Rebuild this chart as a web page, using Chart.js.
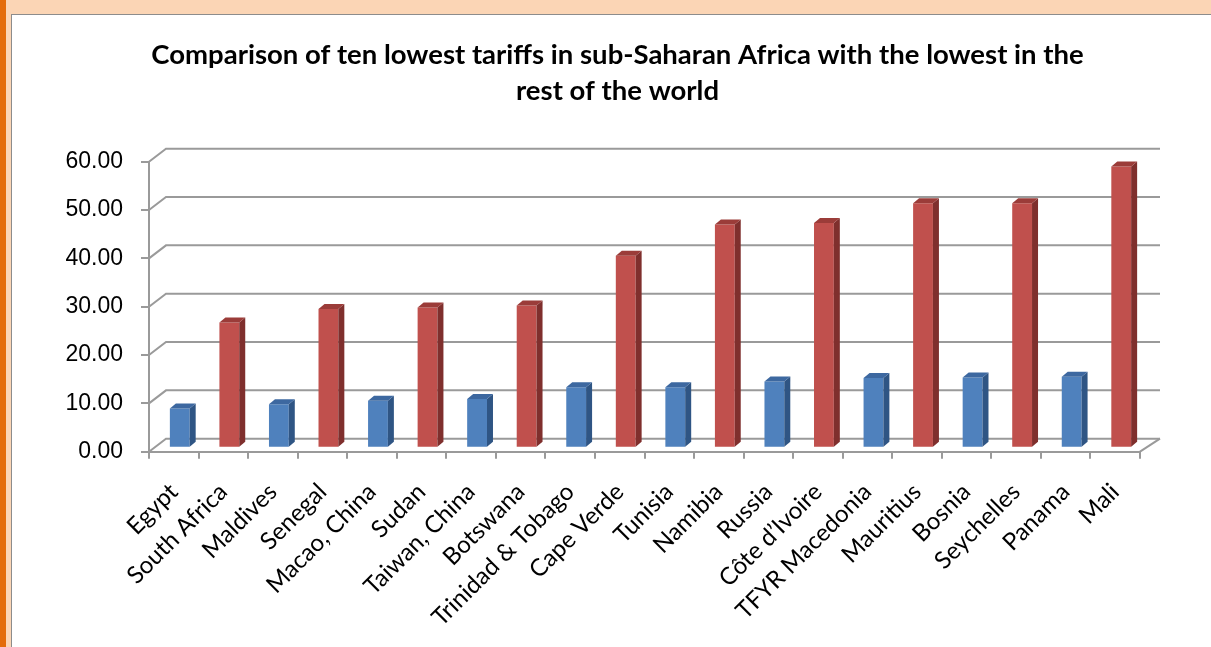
<!DOCTYPE html>
<html lang="en">
<head>
  <meta charset="UTF-8">
  <title>Ten lowest tariffs in sub-Saharan Africa vs the rest of the world</title>
  <style>
    body {
      margin: 0;
      width: 1211px;
      height: 647px;
      overflow: hidden;
      position: relative;
      background-color: #fbd5b5;
    }
    /* orange strip on the left edge */
    .edge {
      position: absolute;
      left: 0;
      top: 0;
      width: 6px;
      height: 647px;
      background-color: #e46c0a;
    }
    /* white chart panel */
    .panel {
      position: absolute;
      left: 11px;
      top: 14px;
      width: 1220px;
      height: 660px;
      background-color: #fff;
      border: 1px solid #8c8c8c;
    }
    #wrap {
      position: absolute;
      left: 0;
      top: 0;
      width: 1211px;
      height: 647px;
    }
  </style>
</head>
<body>

<div class="edge"></div>
<div class="panel"></div>
<div id="wrap"><canvas id="tariffChart"></canvas></div>

<script src="https://cdn.jsdelivr.net/npm/chart.js"></script>

<script>
  // Categories, in the order shown
  var countries = ['Egypt', 'South Africa', 'Maldives', 'Senegal', 'Macao, China', 'Sudan',
    'Taiwan, China', 'Botswana', 'Trinidad & Tobago', 'Cape Verde', 'Tunisia', 'Namibia',
    'Russia', 'C\u00f4te d\u2019Ivoire', 'TFYR Macedonia', 'Mauritius', 'Bosnia', 'Seychelles',
    'Panama', 'Mali'];

  // Sub-Saharan Africa (red bars)
  var africa = [null, 25.9, null, 28.7, null, 29.0, null, 29.4, null, 39.7,
    null, 46.2, null, 46.5, null, 50.6, null, 50.6, null, 58.2];

  // Rest of the world (blue bars)
  var restOfWorld = [8.1, null, 9.0, null, 9.7, null, 10.1, null, 12.5, null,
    12.5, null, 13.7, null, 14.4, null, 14.5, null, 14.7, null];

  var yTicks = [0, 10, 20, 30, 40, 50, 60];

  var gridColor = '#9a9a9a';

  // fake 3D: back wall, floor, bar side and top faces
  var wallX = 17, wallY = -13, wallRightX = 20;
  var barX = 6, barY = -4;
  var sideX = 6, sideY = -5;

  var threeD = {
    id: 'threeD',
    beforeDatasetsDraw: function(chart) {
      var ctx = chart.ctx;
      var a = chart.chartArea;
      var y = chart.scales.y;
      ctx.save();
      ctx.strokeStyle = gridColor;
      ctx.lineWidth = 2;
      yTicks.forEach(function(v) {
        var py = y.getPixelForValue(v);
        ctx.beginPath();
        ctx.moveTo(a.left, py);
        ctx.lineTo(a.left + wallX, py + wallY);
        ctx.lineTo(a.right + wallRightX, py + wallY);
        ctx.stroke();
      });
      // right edge of the floor
      ctx.beginPath();
      ctx.moveTo(a.right, a.bottom);
      ctx.lineTo(a.right + wallRightX, a.bottom + wallY);
      ctx.stroke();
      ctx.restore();

      // bars stand in the middle of the floor
      ctx.save();
      ctx.translate(barX, barY);
    },
    afterDatasetsDraw: function(chart) {
      var ctx = chart.ctx;
      chart.data.datasets.forEach(function(ds, i) {
        chart.getDatasetMeta(i).data.forEach(function(bar, j) {
          if (ds.data[j] == null) return;
          var p = bar.getProps(['x', 'y', 'base', 'width'], true);
          var l = p.x - p.width / 2;
          var r = p.x + p.width / 2;
          ctx.fillStyle = ds.sideColor;
          ctx.beginPath();
          ctx.moveTo(r, p.y);
          ctx.lineTo(r + sideX, p.y + sideY);
          ctx.lineTo(r + sideX, p.base + sideY);
          ctx.lineTo(r, p.base);
          ctx.closePath();
          ctx.fill();
          ctx.fillStyle = ds.topColor;
          ctx.beginPath();
          ctx.moveTo(l, p.y);
          ctx.lineTo(l + sideX, p.y + sideY);
          ctx.lineTo(r + sideX, p.y + sideY);
          ctx.lineTo(r, p.y);
          ctx.closePath();
          ctx.fill();
        });
      });
      ctx.restore();
    }
  };

  var ctx = document.getElementById('tariffChart').getContext('2d');
  var chart = new Chart(ctx, {
    type: 'bar',
    data: {
      labels: countries,
      datasets: [{
        label: 'Rest of the world',
        data: restOfWorld,
        backgroundColor: '#4f81bd',
        sideColor: '#2f5584',
        topColor: '#3d68a0'
      }, {
        label: 'Sub-Saharan Africa',
        data: africa,
        backgroundColor: '#c0504d',
        sideColor: '#7f2f2d',
        topColor: '#9b3c39'
      }]
    },
    plugins: [threeD],
    options: {
      responsive: true,
      maintainAspectRatio: false,
      animation: false,
      grouped: false,
      categoryPercentage: 1,
      barPercentage: 0.4,
      layout: {
        padding: { left: 60, right: 36, top: 0, bottom: 0 }
      },
      plugins: {
        legend: { display: false },
        tooltip: { enabled: false },
        title: {
          display: true,
          text: ['Comparison of ten lowest tariffs in sub-Saharan Africa with the lowest in the',
            'rest of the world'],
          color: '#000',
          font: { family: 'Lato', size: 27.5, weight: 'bold', lineHeight: 36 / 27.5 },
          padding: { top: 37, bottom: 52.7 }
        }
      },
      scales: {
        x: {
          grid: {
            drawOnChartArea: false,
            tickLength: 7,
            color: gridColor,
            lineWidth: 2
          },
          border: { color: gridColor, width: 2 },
          ticks: {
            autoSkip: false,
            maxRotation: 45,
            minRotation: 45,
            padding: 19,
            color: '#000',
            font: { family: 'Lato', size: 24 }
          },
          afterFit: function(scale) { scale.height = 647 - 451.7; }
        },
        y: {
          min: 0,
          max: 60,
          grid: {
            drawOnChartArea: false,
            tickLength: 8,
            color: gridColor,
            lineWidth: 2
          },
          border: { color: gridColor, width: 2 },
          ticks: {
            stepSize: 10,
            padding: 18,
            color: '#000',
            font: { family: 'Liberation Sans', size: 23 },
            callback: function(v) { return v.toFixed(2); }
          },
          afterFit: function(scale) { scale.width = 89; }
        },
        // empty box on the right: leaves room for the back wall and keeps the title centred
        side: {
          position: 'right',
          grid: { display: false },
          border: { display: false },
          ticks: { display: false },
          afterFit: function(scale) { scale.width = 35; }
        }
      }
    }
  });
</script>

</body>
</html>
